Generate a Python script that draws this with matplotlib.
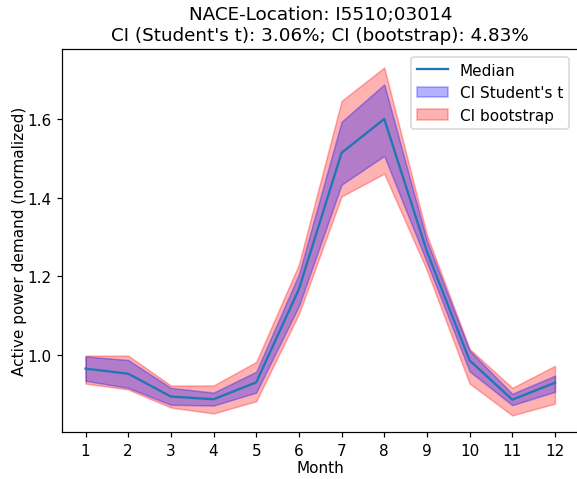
import matplotlib
matplotlib.use('Agg')
import matplotlib.pyplot as plt
import numpy as np

months = np.arange(1, 13)
median = [0.965, 0.952, 0.894, 0.887, 0.930, 1.167, 1.514, 1.600, 1.263, 0.986, 0.886, 0.929]
t_upper = [0.996, 0.987, 0.916, 0.904, 0.957, 1.205, 1.593, 1.688, 1.290, 1.011, 0.901, 0.947]
t_lower = [0.934, 0.916, 0.873, 0.871, 0.904, 1.124, 1.433, 1.506, 1.235, 0.958, 0.872, 0.906]
bs_upper = [0.998, 0.998, 0.922, 0.922, 0.982, 1.230, 1.646, 1.731, 1.305, 1.015, 0.916, 0.972]
bs_lower = [0.927, 0.912, 0.866, 0.851, 0.882, 1.104, 1.403, 1.461, 1.215, 0.927, 0.846, 0.876]

title = "NACE-Location: I5510;03014\nCI (Student's t): 3.06%; CI (bootstrap): 4.83%"

fig = plt.figure(figsize=(577/110, 480/110), dpi=110)
ax = fig.add_axes([0.1075, 0.0973, 0.895, 0.7985])

bs = ax.fill_between(months, bs_lower, bs_upper, color='red', alpha=0.3, label='CI bootstrap')
ci = ax.fill_between(months, t_lower, t_upper, color='blue', alpha=0.3, label="CI Student's t")
ln, = ax.plot(months, median, color='C0', label='Median')

ax.set_xticks(months)
ax.set_yticks([1.0, 1.2, 1.4, 1.6])
ax.set_xlim(0.45, 12.55)
ax.set_ylim(0.803, 1.778)
ax.set_xlabel('Month', labelpad=1)
ax.set_ylabel('Active power demand (normalized)', labelpad=0)
ax.set_title(title)
ax.legend(handles=[ln, ci, bs], loc='upper right', bbox_to_anchor=(0.997, 1.0))

fig.savefig('out.png', dpi=110)
